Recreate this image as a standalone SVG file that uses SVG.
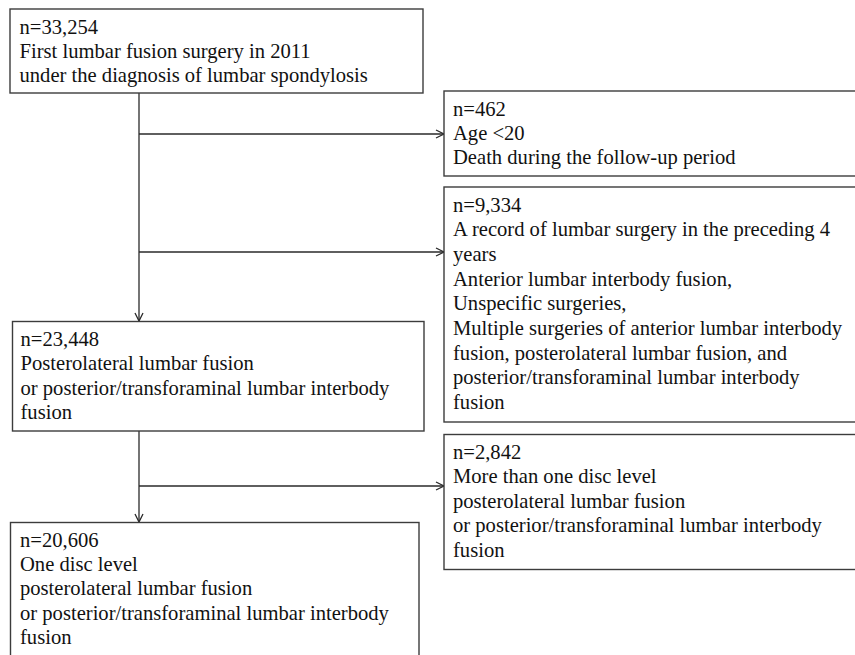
<svg xmlns="http://www.w3.org/2000/svg" width="855" height="655" viewBox="0 0 855 655">
<style>
.box{fill:#fff;stroke:#3c3c3c;stroke-width:1.4}
.t{font-family:"Liberation Serif","Times New Roman",serif;font-size:20.6px;fill:#111}
.c{fill:none;stroke:#2a2a2a;stroke-width:1.3}
</style>
<defs>
<marker id="ah" markerUnits="userSpaceOnUse" markerWidth="12" markerHeight="12" refX="9" refY="5" orient="auto" viewBox="0 0 12 10">
<path d="M1,1 L9,5 L1,9" fill="none" stroke="#2a2a2a" stroke-width="1.3"/>
</marker>
</defs>
<rect width="855" height="655" fill="#fff"/>
<g id="connectors">
<path class="c" d="M139,93 V321" marker-end="url(#ah)"/>
<path class="c" d="M139,134 H444" marker-end="url(#ah)"/>
<path class="c" d="M139,252 H444" marker-end="url(#ah)"/>
<path class="c" d="M139,431 V522" marker-end="url(#ah)"/>
<path class="c" d="M139,486 H444" marker-end="url(#ah)"/>
</g>
<g id="n1">
<rect class="box" x="10" y="9" width="413" height="84"/>
<text class="t" x="19.5" y="33.5">n=33,254</text>
<text class="t" x="19.5" y="57.9">First lumbar fusion surgery in 2011</text>
<text class="t" x="19.5" y="82.3">under the diagnosis of lumbar spondylosis</text>
</g>
<g id="n2">
<rect class="box" x="444" y="91" width="430" height="85"/>
<text class="t" x="453" y="115.5">n=462</text>
<text class="t" x="453" y="139.9">Age &lt;20</text>
<text class="t" x="453" y="164.3">Death during the follow-up period</text>
</g>
<g id="n3">
<rect class="box" x="444" y="187" width="430" height="235"/>
<text class="t" x="453" y="211.5">n=9,334</text>
<text class="t" x="453" y="236.2">A record of lumbar surgery in the preceding 4</text>
<text class="t" x="453" y="260.9">years</text>
<text class="t" x="453" y="285.6">Anterior lumbar interbody fusion,</text>
<text class="t" x="453" y="310.3">Unspecific surgeries,</text>
<text class="t" x="453" y="335">Multiple surgeries of anterior lumbar interbody</text>
<text class="t" x="453" y="359.7">fusion, posterolateral lumbar fusion, and</text>
<text class="t" x="453" y="384.4">posterior/transforaminal lumbar interbody</text>
<text class="t" x="453" y="409.1">fusion</text>
</g>
<g id="n4">
<rect class="box" x="12.5" y="321.5" width="411.5" height="109.5"/>
<text class="t" x="20.5" y="346">n=23,448</text>
<text class="t" x="20.5" y="370.4">Posterolateral lumbar fusion</text>
<text class="t" x="20.5" y="394.8">or posterior/transforaminal lumbar interbody</text>
<text class="t" x="20.5" y="419.2">fusion</text>
</g>
<g id="n5">
<rect class="box" x="444" y="434.5" width="430" height="135"/>
<text class="t" x="453" y="459">n=2,842</text>
<text class="t" x="453" y="483.4">More than one disc level</text>
<text class="t" x="453" y="507.8">posterolateral lumbar fusion</text>
<text class="t" x="453" y="532.2">or posterior/transforaminal lumbar interbody</text>
<text class="t" x="453" y="556.6">fusion</text>
</g>
<g id="n6">
<rect class="box" x="10.5" y="522.5" width="408.5" height="150"/>
<text class="t" x="20" y="546.5">n=20,606</text>
<text class="t" x="20" y="570.9">One disc level</text>
<text class="t" x="20" y="595.3">posterolateral lumbar fusion</text>
<text class="t" x="20" y="619.7">or posterior/transforaminal lumbar interbody</text>
<text class="t" x="20" y="644.1">fusion</text>
</g>
</svg>
